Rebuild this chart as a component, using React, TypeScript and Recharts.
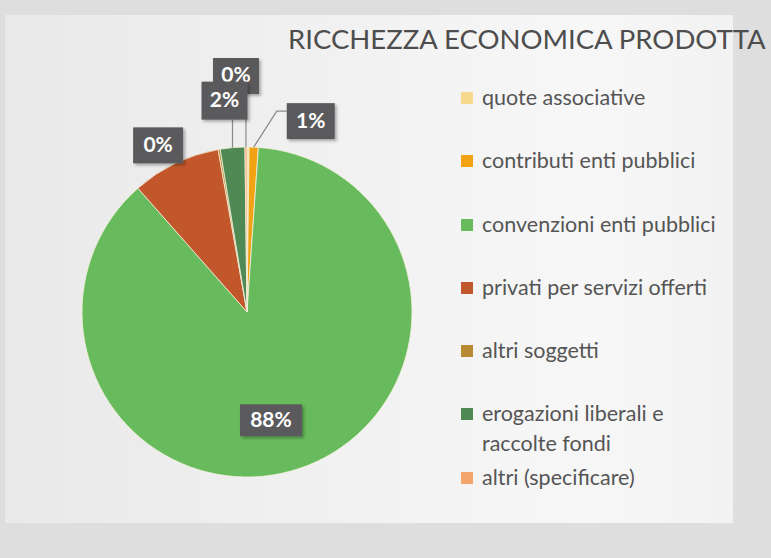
import { Legend, Pie, PieChart, Cell } from "recharts";

const categories = [
  "quote associative",
  "contributi enti pubblici",
  "convenzioni enti pubblici",
  "privati per servizi offerti",
  "altri soggetti",
  "erogazioni liberali e raccolte fondi",
  "altri (specificare)",
];

// share of the total, in percent
const shares = [0.2, 0.9, 87.4, 8.7, 0.2, 2.4, 0.2];

// labels as printed on the chart
const sliceLabels = ["", "1%", "88%", "", "0%", "2%", "0%"];

const colors = [
  "#f6d98c",
  "#f2a313",
  "#68bb5c",
  "#c2572b",
  "#b98a34",
  "#4f8a55",
  "#f3a56c",
];

const data = categories.map((name, i) => ({ name, value: shares[i] }));

// label box placement relative to the slice's outer edge point
const boxes: Record<number, { dx: number; dy: number; w: number; h: number; lead?: string }> = {
  1: { dx: 57, dy: -26, w: 48, h: 36, lead: "elbow" },
  2: { dx: -29, dy: -48, w: 62, h: 32 },
  4: { dx: -61, dy: -4, w: 50, h: 36 },
  5: { dx: -8, dy: -47, w: 46, h: 38, lead: "vertical" },
  6: { dx: -10, dy: -71, w: 46, h: 36, lead: "vertical" },
};

const RADIAN = Math.PI / 180;

const makeLabel = (only: number[]) => (props: any) => {
  const { cx, cy, midAngle, outerRadius, index } = props;
  const box = boxes[index];
  if (!only.includes(index) || !box || !sliceLabels[index]) return null;
  const ex = cx + outerRadius * Math.cos(-midAngle * RADIAN);
  const ey = cy + outerRadius * Math.sin(-midAngle * RADIAN);
  const bx = ex + box.dx;
  const by = ey + box.dy;
  const left = bx - box.w / 2;
  const top = by - box.h / 2;
  let lead = null;
  if (box.lead === "elbow") {
    lead = (
      <polyline
        points={`${ex},${ey} ${left - 10},${top + 8} ${left},${top + 8}`}
        fill="none"
        stroke="#8a8a8a"
        strokeWidth={1.2}
      />
    );
  } else if (box.lead === "vertical") {
    lead = (
      <line x1={ex} y1={ey} x2={ex} y2={top + box.h} stroke="#8a8a8a" strokeWidth={1.2} />
    );
  }
  return (
    <g key={`lbl-${index}`}>
      {lead}
      <rect
        x={left}
        y={top}
        width={box.w}
        height={box.h}
        fill="#5a5a5c"
        filter="url(#boxShadow)"
      />
      <text
        x={bx}
        y={by + 1}
        fill="#ffffff"
        textAnchor="middle"
        dominantBaseline="middle"
        fontFamily="Lato, 'Open Sans', sans-serif"
        fontSize={21}
        fontWeight={700}
      >
        {sliceLabels[index]}
      </text>
    </g>
  );
};

// legend drawn in the data order (the library would sort and merge both pies)
const renderLegend = () => (
  <div>
    {categories.map((name, i) => (
      <div key={name} style={{ display: "flex", alignItems: "flex-start", height: 63.3 }}>
        <span
          style={{
            width: 12,
            height: 12,
            marginTop: 10,
            marginRight: 9,
            flex: "none",
            backgroundColor: colors[i],
          }}
        />
        <span
          style={{
            width: 245,
            lineHeight: "30px",
            fontSize: 21.5,
            color: "#555555",
            fontFamily: "Lato, 'Open Sans', sans-serif",
          }}
        >
          {name}
        </span>
      </div>
    ))}
  </div>
);

export default function App() {
  return (
    <div
      style={{
        position: "absolute",
        left: 0,
        top: 0,
        width: 771,
        height: 558,
        background: "#dedede",
        overflow: "hidden",
      }}
    >
      <svg width={0} height={0} style={{ position: "absolute" }}>
        <defs>
          <filter id="boxShadow" x="-30%" y="-30%" width="160%" height="160%">
            <feDropShadow dx={2} dy={2} stdDeviation={1.5} floodColor="#000" floodOpacity={0.3} />
          </filter>
        </defs>
      </svg>
      <div
        style={{
          position: "absolute",
          left: 5,
          top: 15,
          width: 728,
          height: 508,
          background: "linear-gradient(90deg, #e9e9e9 0%, #f1f1f1 45%, #f7f7f7 80%, #f2f2f2 100%)",
        }}
      />
      <div
        style={{
          position: "absolute",
          left: 288,
          top: 22,
          fontFamily: "Lato, 'Open Sans', sans-serif",
          fontSize: 27.5,
          color: "#4d4d4d",
          whiteSpace: "nowrap",
        }}
      >
        RICCHEZZA ECONOMICA PRODOTTA
      </div>
      <PieChart
        width={771}
        height={558}
        margin={{ top: 0, right: 0, bottom: 0, left: 0 }}
        style={{ position: "absolute", left: 0, top: 0 }}
      >
        <Pie
          data={data}
          dataKey="value"
          nameKey="name"
          cx={247}
          cy={312}
          outerRadius={165}
          startAngle={90}
          endAngle={-270}
          stroke="#f3f0dc"
          strokeWidth={0.8}
          labelLine={false}
          label={makeLabel([1, 2, 4, 6])}
          isAnimationActive={false}
        >
          {data.map((_, i) => (
            <Cell key={i} fill={colors[i]} />
          ))}
        </Pie>
        <Pie
          data={data}
          dataKey="value"
          nameKey="name"
          cx={247}
          cy={312}
          outerRadius={165}
          startAngle={90}
          endAngle={-270}
          fill="none"
          stroke="none"
          legendType="none"
          labelLine={false}
          label={makeLabel([5])}
          isAnimationActive={false}
        />
        <Legend
          layout="vertical"
          align="right"
          verticalAlign="top"
          content={renderLegend}
          wrapperStyle={{ position: "absolute", left: 461, top: 82, width: 300 }}
        />
      </PieChart>
    </div>
  );
}
